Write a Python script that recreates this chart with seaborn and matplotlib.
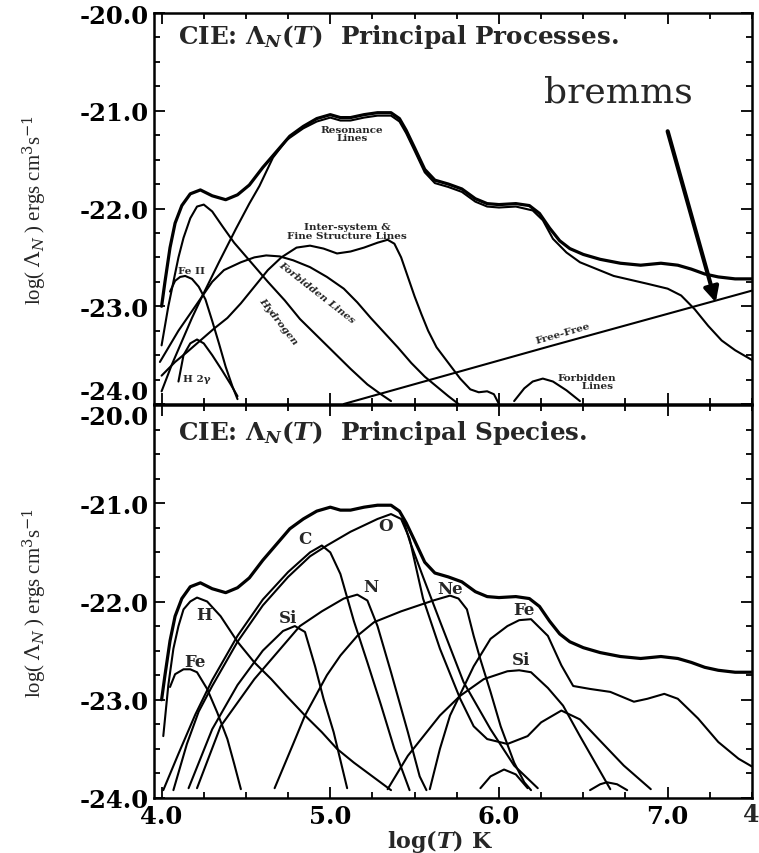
import numpy as np
import matplotlib
matplotlib.use("Agg")
import matplotlib.pyplot as plt
from matplotlib.ticker import MultipleLocator
import seaborn as sns

# total cooling curve (same in both panels)
tot_x = [4.0, 4.02, 4.05, 4.08, 4.12, 4.17, 4.23, 4.3, 4.38, 4.45, 4.52, 4.6, 4.68, 4.76, 4.84, 4.92,
         5.0, 5.06, 5.12, 5.2, 5.28, 5.36, 5.41, 5.45, 5.5, 5.56, 5.62, 5.7, 5.78, 5.86, 5.93, 6.0,
         6.1, 6.18, 6.24, 6.3, 6.36, 6.42, 6.5, 6.6, 6.72, 6.84, 6.96, 7.06, 7.14, 7.22, 7.3, 7.4, 7.5]
tot_y = [-23.0, -22.75, -22.4, -22.15, -21.97, -21.85, -21.81, -21.87, -21.91, -21.86, -21.76, -21.58,
         -21.42, -21.26, -21.16, -21.08, -21.04, -21.07, -21.07, -21.04, -21.02, -21.02, -21.08, -21.2,
         -21.38, -21.6, -21.71, -21.75, -21.8, -21.9, -21.95, -21.96, -21.95, -21.97, -22.05, -22.2,
         -22.33, -22.41, -22.47, -22.52, -22.56, -22.58, -22.56, -22.58, -22.62, -22.67, -22.7, -22.72, -22.72]

# --- top panel: processes ---
res_x = [3.99, 4.1, 4.24, 4.34, 4.44, 4.52, 4.58, 4.66, 4.74, 4.84, 4.92, 5.0, 5.06, 5.12, 5.2, 5.28,
         5.36, 5.41, 5.45, 5.5, 5.56, 5.62, 5.7, 5.78, 5.86, 5.93, 6.0, 6.1, 6.2, 6.26, 6.32, 6.4, 6.48,
         6.58, 6.68, 6.78, 6.88, 7.0, 7.08, 7.16, 7.24, 7.32, 7.4, 7.5]
res_y = [-23.57, -23.25, -22.9, -22.55, -22.21, -21.95, -21.77, -21.48, -21.3, -21.18, -21.11, -21.07,
         -21.1, -21.1, -21.07, -21.05, -21.05, -21.11, -21.23, -21.41, -21.63, -21.74, -21.78, -21.83,
         -21.93, -21.98, -21.99, -21.98, -22.02, -22.12, -22.31, -22.45, -22.55, -22.62, -22.69, -22.73,
         -22.77, -22.82, -22.89, -23.03, -23.2, -23.35, -23.45, -23.55]
hyd_x = [4.0, 4.04, 4.07, 4.1, 4.13, 4.17, 4.21, 4.25, 4.3, 4.36, 4.43, 4.53, 4.63, 4.73, 4.82, 4.92,
         5.02, 5.12, 5.22, 5.3, 5.36]
hyd_y = [-23.4, -23.0, -22.75, -22.5, -22.3, -22.1, -21.98, -21.96, -22.03, -22.18, -22.35, -22.55,
         -22.75, -22.94, -23.13, -23.3, -23.47, -23.64, -23.8, -23.9, -23.97]
feii_x = [4.05, 4.08, 4.11, 4.14, 4.18, 4.22, 4.26, 4.3, 4.34, 4.38, 4.42, 4.45]
feii_y = [-22.85, -22.74, -22.7, -22.69, -22.72, -22.8, -22.93, -23.15, -23.38, -23.62, -23.82, -23.95]
h2g_x = [4.1, 4.13, 4.17, 4.21, 4.25, 4.3, 4.36, 4.41, 4.45]
h2g_y = [-23.77, -23.5, -23.38, -23.34, -23.38, -23.5, -23.66, -23.8, -23.92]
forb_x = [4.0, 4.06, 4.12, 4.18, 4.24, 4.3, 4.37, 4.47, 4.55, 4.62, 4.7, 4.78, 4.88, 4.98, 5.08,
          5.16, 5.24, 5.32, 5.4, 5.48, 5.56, 5.63, 5.7, 5.76]
forb_y = [-23.87, -23.6, -23.36, -23.12, -22.9, -22.75, -22.63, -22.55, -22.5, -22.48, -22.49, -22.53,
          -22.6, -22.7, -22.82, -22.96, -23.12, -23.27, -23.42, -23.58, -23.72, -23.82, -23.92, -24.0]
inter_x = [4.0, 4.08, 4.15, 4.23, 4.31, 4.39, 4.47, 4.55, 4.63, 4.71, 4.8, 4.88, 4.96, 5.04, 5.12,
           5.2, 5.28, 5.34, 5.38, 5.42, 5.46, 5.5, 5.54, 5.58, 5.63, 5.7, 5.77, 5.83, 5.88, 5.93, 5.97, 6.0]
inter_y = [-23.71, -23.57, -23.47, -23.35, -23.23, -23.12, -22.97, -22.8, -22.63, -22.5, -22.4, -22.38,
           -22.41, -22.46, -22.44, -22.4, -22.35, -22.32, -22.36, -22.5, -22.7, -22.9, -23.08, -23.25,
           -23.42, -23.58, -23.74, -23.85, -23.88, -23.87, -23.9, -24.0]
ff_x = [5.08, 6.3, 7.5]
ff_y = [-24.0, -23.41, -22.84]
forb2_x = [6.09, 6.15, 6.2, 6.26, 6.32, 6.4, 6.48]
forb2_y = [-23.97, -23.84, -23.77, -23.74, -23.77, -23.86, -23.97]

# --- bottom panel: species ---
h_x = [4.01, 4.04, 4.07, 4.1, 4.13, 4.17, 4.21, 4.27, 4.35, 4.45, 4.55, 4.65, 4.74, 4.85, 4.95,
       5.04, 5.14, 5.25, 5.36]
h_y = [-23.37, -22.85, -22.48, -22.25, -22.08, -22.0, -21.96, -22.0, -22.15, -22.41, -22.62, -22.79,
       -22.96, -23.16, -23.33, -23.5, -23.64, -23.78, -23.92]
fe1_x = [4.05, 4.08, 4.13, 4.17, 4.21, 4.27, 4.33, 4.39, 4.43, 4.47]
fe1_y = [-22.87, -22.74, -22.69, -22.69, -22.72, -22.89, -23.13, -23.4, -23.65, -23.91]
c_x = [4.01, 4.1, 4.2, 4.3, 4.45, 4.6, 4.75, 4.88, 4.95, 5.0, 5.06, 5.14, 5.22, 5.3, 5.38, 5.47]
c_y = [-23.92, -23.55, -23.15, -22.8, -22.35, -21.98, -21.7, -21.5, -21.43, -21.5, -21.72, -22.2,
       -22.62, -23.05, -23.5, -23.92]
o_x = [4.07, 4.15, 4.22, 4.3, 4.45, 4.6, 4.75, 4.88, 4.98, 5.12, 5.28, 5.36, 5.42, 5.47, 5.55, 5.65,
       5.77, 5.85, 5.93, 6.05, 6.17, 6.25, 6.37, 6.48, 6.59, 6.74, 6.9]
o_y = [-23.92, -23.45, -23.12, -22.86, -22.41, -22.04, -21.75, -21.54, -21.43, -21.29, -21.16, -21.11,
       -21.16, -21.36, -21.97, -22.48, -22.99, -23.27, -23.4, -23.45, -23.37, -23.23, -23.11, -23.2,
       -23.4, -23.67, -23.91]
o2_x = [5.43, 5.47, 5.55, 5.65, 5.79, 5.95, 6.09, 6.23]
o2_y = [-21.15, -21.38, -21.75, -22.2, -22.82, -23.3, -23.67, -23.9]
n_x = [4.21, 4.35, 4.55, 4.74, 4.82, 4.95, 5.08, 5.16, 5.22, 5.28, 5.36, 5.46, 5.53, 5.57]
n_y = [-23.9, -23.27, -22.79, -22.41, -22.25, -22.1, -21.97, -21.93, -21.99, -22.25, -22.72, -23.33,
       -23.78, -23.92]
si1_x = [4.16, 4.3, 4.45, 4.6, 4.72, 4.79, 4.85, 4.91, 4.96, 5.02, 5.1]
si1_y = [-23.9, -23.3, -22.85, -22.5, -22.3, -22.25, -22.31, -22.66, -22.99, -23.33, -23.9]
ne_x = [4.67, 4.78, 4.85, 4.98, 5.06, 5.16, 5.26, 5.42, 5.61, 5.71, 5.76, 5.81, 5.85, 5.89, 5.95,
        6.01, 6.09, 6.15, 6.19]
ne_y = [-23.9, -23.45, -23.16, -22.75, -22.55, -22.35, -22.21, -22.1, -21.99, -21.94, -21.97, -22.08,
        -22.35, -22.59, -22.92, -23.27, -23.64, -23.84, -23.92]
si2_x = [5.34, 5.46, 5.65, 5.77, 5.91, 6.05, 6.12, 6.19, 6.29, 6.38, 6.48, 6.58, 6.66]
si2_y = [-23.91, -23.57, -23.16, -22.96, -22.79, -22.71, -22.7, -22.72, -22.88, -23.06, -23.37,
         -23.67, -23.91]
fe2_x = [5.59, 5.65, 5.71, 5.85, 5.95, 6.05, 6.12, 6.19, 6.29, 6.37, 6.44, 6.54, 6.66, 6.8, 6.88,
         6.98, 7.06, 7.18, 7.3, 7.42, 7.5]
fe2_y = [-23.91, -23.5, -23.16, -22.66, -22.38, -22.25, -22.19, -22.18, -22.35, -22.65, -22.86,
         -22.89, -22.92, -23.02, -22.99, -22.94, -22.99, -23.19, -23.43, -23.6, -23.68]
arc1_x = [5.89, 5.95, 6.03, 6.1, 6.17]
arc1_y = [-23.9, -23.78, -23.71, -23.76, -23.9]
arc2_x = [6.54, 6.6, 6.64, 6.7, 6.76]
arc2_y = [-23.92, -23.86, -23.84, -23.86, -23.92]

yticks = [-24.0, -23.0, -22.0, -21.0, -20.0]
xticks = [4.0, 5.0, 6.0, 7.0]

sns.set_theme(style="ticks")
plt.rcParams["font.family"] = ["DejaVu Serif"]
plt.rcParams["mathtext.fontset"] = "dejavuserif"

fig = plt.figure(figsize=(7.59, 8.54), dpi=100)
W, H = 759.0, 854.0
ax1 = fig.add_axes([154 / W, 1 - 405 / H, 598 / W, 391 / H])
ax2 = fig.add_axes([154 / W, 1 - 799 / H, 598 / W, 393 / H], sharex=ax1)


def curve(ax, xs, ys, lw=1.5):
    sns.lineplot(x=xs, y=ys, ax=ax, color="black", linewidth=lw, sort=False,
                 estimator=None, legend=False)


for xs, ys in [(res_x, res_y), (hyd_x, hyd_y), (feii_x, feii_y), (h2g_x, h2g_y),
               (forb_x, forb_y), (inter_x, inter_y), (ff_x, ff_y), (forb2_x, forb2_y)]:
    curve(ax1, xs, ys)
curve(ax1, tot_x, tot_y, lw=2.3)

for xs, ys in [(h_x, h_y), (fe1_x, fe1_y), (c_x, c_y), (o_x, o_y), (o2_x, o2_y), (n_x, n_y),
               (si1_x, si1_y), (ne_x, ne_y), (si2_x, si2_y), (fe2_x, fe2_y),
               (arc1_x, arc1_y), (arc2_x, arc2_y)]:
    curve(ax2, xs, ys)
curve(ax2, tot_x, tot_y, lw=2.3)

for ax in (ax1, ax2):
    ax.set_xlim(3.955, 7.5)
    ax.set_ylim(-24.0, -20.0)
    ax.set_yticks(yticks, ["%.1f" % v for v in yticks])
    ax.xaxis.set_minor_locator(MultipleLocator(0.25))
    ax.yaxis.set_minor_locator(MultipleLocator(0.25))
    ax.tick_params(which="both", direction="in", top=True, right=True, width=1.3, colors="black")
    ax.tick_params(which="major", length=8, labelsize=17.5, pad=4)
    ax.tick_params(which="minor", length=4)
    for s in ax.spines.values():
        s.set_linewidth(1.8)
        s.set_color("black")
    ax.set_xlabel("")
    ax.set_ylabel(r"log( $\Lambda_N$ ) ergs cm$^3$s$^{-1}$", fontsize=15,
                  family="Liberation Serif")
    ax.yaxis.set_label_coords(-0.175, 0.5)
    for lab in ax.get_yticklabels():
        lab.set_fontweight("bold")

ax1.set_xticks(xticks)
ax1.tick_params(labelbottom=False)
ax2.set_xticks(xticks, ["%.1f" % v for v in xticks])
for lab in ax2.get_xticklabels():
    lab.set_fontweight("bold")
ax1.get_yticklabels()[0].set_va("bottom")
ax2.get_yticklabels()[-1].set_va("top")
# first digit of the neighbouring panel's axis, cut by the figure edge in the original
fig.text(743 / W, 1 - 815 / H, "4", ha="left", va="center", fontsize=17, fontweight="bold")

ax2.set_xlabel(r"log($\mathbfit{T}$) K", fontsize=16, fontweight="bold")
ax2.xaxis.set_label_coords(0.478, -0.075)

ttl = dict(fontsize=17.7, fontweight="bold", ha="left", va="baseline")
fig.text(178 / W, 1 - 44 / H,
         r"CIE: $\mathbf{\Lambda}_{\mathbfit{N}}\mathbf{(}\mathbfit{T}\mathbf{)}$  Principal Processes.", **ttl)
fig.text(178 / W, 1 - 440 / H,
         r"CIE: $\mathbf{\Lambda}_{\mathbfit{N}}\mathbf{(}\mathbfit{T}\mathbf{)}$  Principal Species.", **ttl)

small = dict(fontsize=7.5, fontweight="bold", ha="center", va="center", linespacing=0.9)
ax1.text(5.13, -21.23, "Resonance\nLines", **small)
ax1.text(5.1, -22.23, "Inter-system &\nFine Structure Lines", **small)
ax1.text(4.18, -22.63, "Fe II", **small)
ax1.text(4.21, -23.74, "H 2\u03b3", **small)
ax1.text(4.69, -23.15, "Hydrogen", rotation=-52, fontstyle="italic", **small)
ax1.text(4.92, -22.85, "Forbidden Lines", rotation=-38, fontstyle="italic", **small)
ax1.text(6.38, -23.27, "Free-Free", rotation=16, **small)
ax1.text(6.52, -23.77, "Forbidden\n      Lines", **small)

ax1.text(6.71, -20.8, "bremms", fontsize=26, ha="center", va="center", family="DejaVu Serif")
ax1.annotate("", xy=(7.285, -22.96), xytext=(7.0, -21.21),
             arrowprops=dict(arrowstyle="-|>", lw=3, color="black", mutation_scale=22,
                             shrinkA=0, shrinkB=0))

el = dict(fontsize=12, fontweight="bold", ha="center", va="center")
for txt, xx, yy in [("H", 4.25, -22.13), ("Fe", 4.2, -22.61), ("Si", 4.75, -22.16),
                    ("C", 4.85, -21.36), ("N", 5.24, -21.85), ("O", 5.33, -21.23),
                    ("Ne", 5.71, -21.87), ("Fe", 6.15, -22.08), ("Si", 6.13, -22.59)]:
    ax2.text(xx, yy, txt, **el)

fig.savefig("out.png", dpi=100)
